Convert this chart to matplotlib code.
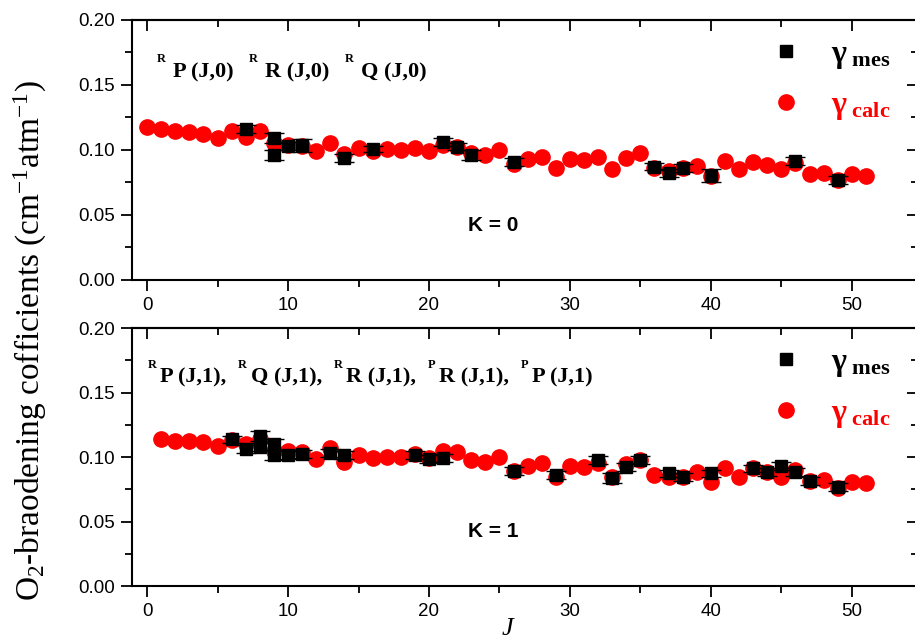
import numpy as np
import matplotlib
matplotlib.use("Agg")
import matplotlib.pyplot as plt
from matplotlib.ticker import MultipleLocator, FormatStrFormatter

# --------------------------------
# Data
# --------------------------------
J_calc_k0 = list(range(0, 52))
g_calc_k0 = [0.1179, 0.1159, 0.1149, 0.1138, 0.1123, 0.1095, 0.1149, 0.1103, 0.1149, 0.1051,
             0.1038, 0.1030, 0.0990, 0.1051, 0.0969, 0.1013, 0.0990, 0.1005, 0.1000, 0.1013,
             0.0995, 0.1038, 0.1026, 0.0974, 0.0959, 0.1000, 0.0895, 0.0931, 0.0949, 0.0864,
             0.0928, 0.0923, 0.0949, 0.0856, 0.0936, 0.0974, 0.0859, 0.0841, 0.0859, 0.0879,
             0.0800, 0.0915, 0.0854, 0.0910, 0.0882, 0.0854, 0.0897, 0.0813, 0.0821, 0.0769,
             0.0813, 0.0803]

J_mes_k0 = [7, 9, 9, 10, 11, 14, 16, 21, 22, 23, 26, 36, 37, 38, 40, 46, 49]
g_mes_k0 = [0.1162, 0.1090, 0.0962, 0.1031, 0.1035, 0.0936, 0.1008, 0.1059, 0.1026, 0.0962,
            0.0905, 0.0872, 0.0825, 0.0859, 0.0800, 0.0915, 0.0769]
err_k0 = [0.003, 0.004, 0.004, 0.003, 0.005, 0.003, 0.002, 0.003, 0.003, 0.004,
          0.003, 0.003, 0.003, 0.003, 0.005, 0.003, 0.003]

J_calc_k1 = list(range(1, 52))
g_calc_k1 = [0.1137, 0.1127, 0.1122, 0.1114, 0.1088, 0.1132, 0.1098, 0.1137, 0.1049,
             0.1049, 0.1041, 0.0982, 0.1067, 0.0964, 0.1016, 0.0990, 0.1003, 0.0997, 0.1021,
             0.0995, 0.1049, 0.1036, 0.0977, 0.0964, 0.1003, 0.0894, 0.0930, 0.0951, 0.0843,
             0.0930, 0.0925, 0.0956, 0.0848, 0.0946, 0.0977, 0.0860, 0.0843, 0.0843, 0.0886,
             0.0809, 0.0912, 0.0848, 0.0912, 0.0886, 0.0843, 0.0899, 0.0816, 0.0822, 0.0757,
             0.0809, 0.0796]

J_mes_k1 = [6, 7, 8, 8, 9, 9, 10, 11, 13, 14, 19, 20, 21, 26, 29, 32, 33, 34, 35, 37,
            38, 40, 43, 44, 45, 46, 47, 49]
g_mes_k1 = [0.1137, 0.1060, 0.1163, 0.1080, 0.1098, 0.1016, 0.1016, 0.1023, 0.1034, 0.1016,
            0.1016, 0.0984, 0.0990, 0.0891, 0.0860, 0.0977, 0.0835, 0.0925, 0.0977, 0.0873,
            0.0848, 0.0873, 0.0912, 0.0886, 0.0930, 0.0886, 0.0814, 0.0765]
err_k1 = [0.003, 0.003, 0.004, 0.003, 0.004, 0.004, 0.003, 0.003, 0.003, 0.003,
          0.003, 0.003, 0.003, 0.003, 0.003, 0.003, 0.004, 0.003, 0.003, 0.003,
          0.003, 0.003, 0.003, 0.003, 0.003, 0.003, 0.003, 0.003]

branches_k0 = [("R", "P (J,0)"), ("R", "R (J,0)"), ("R", "Q (J,0)")]
branches_k1 = [("R", "P (J,1),"), ("R", "Q (J,1),"), ("R", "R (J,1),"),
               ("P", "R (J,1),"), ("P", "P (J,1)")]

# --------------------------------
# Style
# --------------------------------
plt.rcParams['font.family'] = ['Liberation Sans', 'DejaVu Sans']
plt.rcParams['mathtext.fontset'] = 'custom'
plt.rcParams['mathtext.rm'] = 'Liberation Serif'
plt.rcParams['mathtext.it'] = 'Liberation Serif:italic'
plt.rcParams['mathtext.bf'] = 'Liberation Serif:bold'

SERIF = 'Liberation Serif'


def branch_label(ax, x, y, parts, gap_sup, gap_main, size=16, sup_size=9):
    # superscript + main text pieces chained one after another
    t = ax.text(x, y, parts[0][0], transform=ax.transAxes, fontsize=sup_size,
                family=SERIF, weight='bold', va='bottom', ha='left')
    for i, (sup, main) in enumerate(parts):
        if i > 0:
            t = ax.annotate(sup, xy=(1, 0), xycoords=t, xytext=(gap_main, 12.3),
                            textcoords='offset points', fontsize=sup_size,
                            family=SERIF, weight='bold', va='bottom', ha='left')
        t = ax.annotate(main, xy=(1, 0), xycoords=t, xytext=(gap_sup, -12.3),
                        textcoords='offset points', fontsize=size,
                        family=SERIF, weight='bold', va='bottom', ha='left')


def draw_panel(ax, J_calc, g_calc, J_mes, g_mes, err, parts, label_pos, gaps, k_text):
    ax.errorbar(J_mes, g_mes, yerr=err, fmt='none', ecolor='black',
                elinewidth=1, capsize=7, capthick=1, zorder=3)
    h_calc, = ax.plot(J_calc, g_calc, 'o', color='red', ms=11, zorder=2)
    h_mes, = ax.plot(J_mes, g_mes, 's', color='black', ms=8, zorder=4)

    ax.set_xlim(-1.07, 54.7)
    ax.set_ylim(0, 0.2)
    ax.xaxis.set_major_locator(MultipleLocator(10))
    ax.xaxis.set_minor_locator(MultipleLocator(5))
    ax.yaxis.set_major_locator(MultipleLocator(0.05))
    ax.yaxis.set_minor_locator(MultipleLocator(0.025))
    ax.yaxis.set_major_formatter(FormatStrFormatter('%.2f'))
    ax.tick_params(which='major', direction='out', length=8, width=1.3,
                   labelsize=13.5, pad=4)
    ax.tick_params(which='minor', direction='out', length=5, width=1.3)
    for s in ax.spines.values():
        s.set_linewidth(1.5)
    ax.spines['right'].set_visible(False)

    top = ax.secondary_xaxis('top')
    top.xaxis.set_major_locator(MultipleLocator(10))
    top.xaxis.set_minor_locator(MultipleLocator(5))
    top.tick_params(which='major', direction='in', length=8, width=1.3, labeltop=False)
    top.tick_params(which='minor', direction='in', length=5, width=1.3)
    top.spines['top'].set_linewidth(1.5)

    right = ax.secondary_yaxis('right')
    right.yaxis.set_major_locator(MultipleLocator(0.05))
    right.yaxis.set_minor_locator(MultipleLocator(0.025))
    right.tick_params(which='major', direction='in', length=8, width=1.3, labelright=False)
    right.tick_params(which='minor', direction='in', length=5, width=1.3)

    branch_label(ax, label_pos[0], label_pos[1], parts, gaps[0], gaps[1])

    ax.text(0.46, 0.21, k_text, transform=ax.transAxes, fontsize=15,
            weight='bold', ha='center', va='center')

    leg = ax.legend([h_mes, h_calc],
                    [r"γ$_{\mathbf{\ mes}}$", r"γ$_{\mathbf{\ calc}}$"],
                    loc='upper left', bbox_to_anchor=(0.775, 1.035),
                    frameon=False, numpoints=1, handlelength=1.0,
                    handletextpad=0.9, labelspacing=0.62,
                    prop={'family': SERIF, 'size': 23, 'weight': 'bold'})
    leg.get_texts()[1].set_color('red')


fig = plt.figure(figsize=(9.15, 6.43), dpi=100)
ax1 = fig.add_axes([0.1443, 0.5646, 0.859, 0.4044])
ax2 = fig.add_axes([0.1443, 0.0886, 0.859, 0.4012])

draw_panel(ax1, J_calc_k0, g_calc_k0, J_mes_k0, g_mes_k0, err_k0,
           branches_k0, (0.032, 0.825), (5, 11), "K = 0")
draw_panel(ax2, J_calc_k1, g_calc_k1, J_mes_k1, g_mes_k1, err_k1,
           branches_k1, (0.020, 0.8345), (2.5, 8.5), "K = 1")

fig.text(0.033, 0.471, r"O$_2$-braodening cofficients (cm$^{-1}$atm$^{-1}$)",
         rotation=90, family=SERIF, fontsize=24, ha='center', va='center')
fig.text(0.555, 0.022, "J", family=SERIF, style='italic', fontsize=19,
         ha='center', va='center')

fig.savefig("out.png", dpi=100)
